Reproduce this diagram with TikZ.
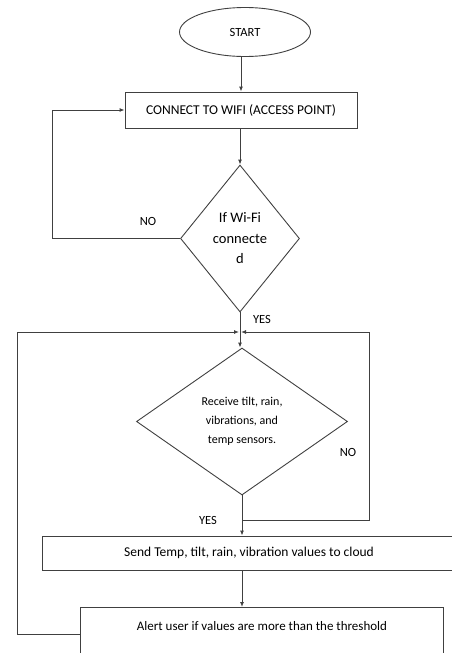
\documentclass[tikz,border=0pt]{standalone}
\usepackage{fontspec}
\setmainfont{Carlito}
\usetikzlibrary{shapes.geometric,arrows.meta}

\tikzset{
	line/.style={draw=black!75, line width=0.9pt},
	arrowline/.style={line, -{Latex[length=5pt,width=4pt]}},
	startend/.style={ellipse, line, minimum width=131pt, minimum height=49pt, inner sep=0pt, font=\fontsize{12.5}{14}\selectfont},
	process/.style={rectangle, line, inner sep=0pt, font=\fontsize{13.5}{15}\selectfont},
	decision/.style={diamond, line, inner sep=0pt, align=center},
	tag/.style={font=\fontsize{12.5}{14}\selectfont, inner sep=0pt}
}

\begin{document}
\begin{tikzpicture}[x=1pt, y=-1pt]
	\useasboundingbox (0,0) rectangle (452,653);
	% nodes
	\node[startend] (start) at (245,32) {START};
	\node[process, minimum width=232pt, minimum height=36pt] (wifi) at (241,110) {CONNECT TO WIFI (ACCESS POINT)};
	\node[decision, minimum width=119pt, minimum height=147pt, aspect=0.8, font=\fontsize{14.5}{20.5}\selectfont] (wificheck) at (240,238.5) {If Wi-Fi\\connecte\\d};
	\node[decision, minimum width=211pt, minimum height=147pt, aspect=1.4, font=\fontsize{12}{19}\selectfont] (sensors) at (242,421.5) {Receive tilt, rain,\\vibrations, and\\temp sensors.};
	\node[process, minimum width=414pt, minimum height=34pt] (send) at (249,553) {Send Temp, tilt, rain, vibration values to cloud};
	\node[process, anchor=north west, minimum width=363pt, text height=19pt, text depth=26pt, inner ysep=4pt, font=\fontsize{13}{15}\selectfont] (alert) at (80,607) {Alert user if values are more than the threshold};
	\coordinate (join) at (240,332);
	\coordinate (nofork) at (242,520);
	% labels
	\node[tag] (no1) at (148,221) {NO};
	\node[tag] (yes1) at (262,319) {YES};
	\node[tag] (no2) at (348,452) {NO};
	\node[tag] (yes2) at (208,520) {YES};
	% connectors
	\draw[arrowline] (start.south -| wifi.north) -- (wifi.north);
	\draw[arrowline] (wifi.south -| wificheck.north) -- (wificheck.north);
	\draw[arrowline] (wificheck.west) -- (52,238.5) |- (wifi.west);
	\draw[line] (wificheck.south) -- (join);
	\draw[arrowline] (join) -- (sensors.north -| join);
	\draw[arrowline] (sensors.south) -- (send.north -| sensors.south);
	\draw[arrowline] (nofork) -- (369,520) |- ([xshift=1pt]join);
	\draw[arrowline] (send.south -| sensors.south) -- (alert.north -| sensors.south);
	\draw[arrowline] (alert.west) -- ++(-63,0) |- ([xshift=-1pt]join);
\end{tikzpicture}
\end{document}
